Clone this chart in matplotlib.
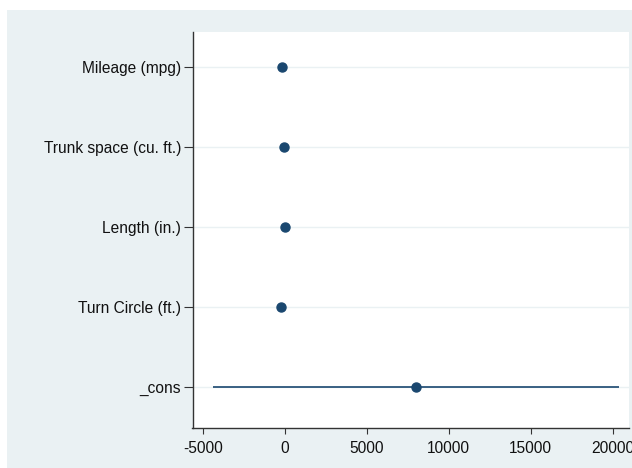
import matplotlib.pyplot as plt
import matplotlib.patches as mpatches
import numpy as np

plt.rcParams['font.family'] = ['Liberation Sans', 'DejaVu Sans']

# coefficient estimates with 95% confidence bounds
labels = ['Mileage (mpg)', 'Trunk space (cu. ft.)', 'Length (in.)', 'Turn Circle (ft.)', '_cons']
coef = [-185, -20, 40, -200, 8025]
ci_lo = [-330, -190, -40, -380, -4370]
ci_hi = [-40, 150, 120, -20, 20400]

navy = '#1a476f'
bg = '#eaf1f3'

fig = plt.figure(figsize=(6.32, 4.68), dpi=100)
fig.patch.set_facecolor('white')
fig.patches.append(mpatches.Rectangle((7 / 632, 0), 1 - 7 / 632, 1 - 10 / 468,
                                      transform=fig.transFigure, facecolor=bg,
                                      edgecolor='none', zorder=-10))

ax = fig.add_axes([192.5 / 632, 40 / 468, (629 - 192.5) / 632, 396 / 468])
ax.set_facecolor('white')

ypos = np.arange(len(labels))[::-1] + 1
for y in ypos:
    ax.axhline(y, color=bg, lw=1.0, zorder=1)

ax.hlines(ypos, ci_lo, ci_hi, color=navy, lw=1.2, zorder=2)
ax.plot(coef, ypos, 'o', color=navy, ms=6.5, zorder=3)

ax.set_xlim(-5628, 20994)
ax.set_ylim(0.4875, 5.4375)
ax.set_yticks(ypos)
ax.set_yticklabels(labels)
ax.set_xticks([-5000, 0, 5000, 10000, 15000, 20000])
ax.set_xticklabels(['-5000', '0', '5000', '10000', '15000', '20000'])

for s in ['top', 'right']:
    ax.spines[s].set_visible(False)
for s in ['left', 'bottom']:
    ax.spines[s].set_color('#333333')
    ax.spines[s].set_linewidth(1.0)
ax.tick_params(axis='both', width=0.8, color='#333333',
               labelsize=11.2, labelcolor='#111111')
ax.tick_params(axis='y', length=6.5, pad=1.8)
ax.tick_params(axis='x', length=4.5, pad=5)

fig.savefig('out.png', dpi=100)
